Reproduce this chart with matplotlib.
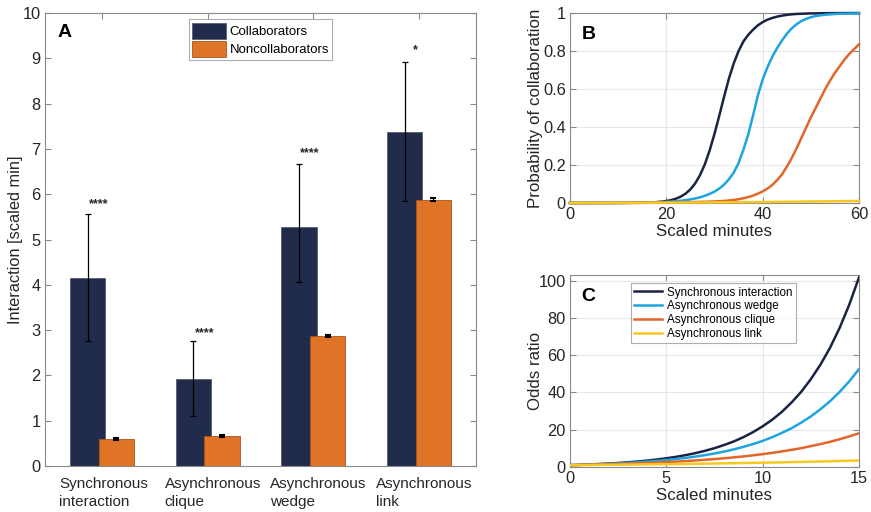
import matplotlib
matplotlib.use("Agg")
import matplotlib.pyplot as plt
import matplotlib.transforms as mtrans
import numpy as np

plt.rcParams["font.family"] = ["Liberation Sans", "DejaVu Sans"]

# ---------------------------------------------------------------------------
# data

categories = ["Synchronous\ninteraction", "Asynchronous\nclique",
              "Asynchronous\nwedge", "Asynchronous\nlink"]
collab_mean = [4.15, 1.93, 5.27, 7.37]
collab_lo   = [2.77, 1.10, 4.06, 5.84]
collab_hi   = [5.56, 2.76, 6.66, 8.92]
noncol_mean = [0.60, 0.67, 2.87, 5.88]
noncol_err  = [0.02, 0.02, 0.03, 0.04]
stars       = ["****", "****", "****", "*"]
star_y      = [5.89, 3.05, 7.02, 9.29]

# panel B: probability of collaboration vs scaled minutes
prob_t = [0, 5, 10] + list(range(15, 61))
prob_sync = [0, 0.0001, 0.0002,
             0.0014, 0.0021, 0.0031, 0.0047, 0.007, 0.0104, 0.0154, 0.0228, 0.0336, 0.0492,
             0.0718, 0.1034, 0.1468, 0.204, 0.277, 0.364, 0.46, 0.56, 0.655, 0.735,
             0.80, 0.85, 0.885, 0.912, 0.935, 0.952, 0.965, 0.974, 0.981, 0.986,
             0.99, 0.993, 0.995, 0.996, 0.997, 0.998, 0.998, 0.9985, 0.999, 0.999,
             0.9993, 0.9995, 0.9996, 0.9997, 0.9998, 0.9998]
prob_wedge = [0, 0.0003, 0.0008,
              0.002, 0.0024, 0.003, 0.0038, 0.0048, 0.006, 0.0075, 0.0095, 0.012, 0.015,
              0.019, 0.024, 0.030, 0.038, 0.048, 0.06, 0.076, 0.097, 0.125, 0.16,
              0.21, 0.28, 0.36, 0.46, 0.565, 0.65, 0.715, 0.77, 0.815, 0.855,
              0.89, 0.918, 0.94, 0.957, 0.969, 0.978, 0.984, 0.988, 0.991, 0.993,
              0.995, 0.996, 0.9965, 0.997, 0.9975, 0.998]
prob_clique = [0, 0.0002, 0.0005,
               0.001, 0.0012, 0.0014, 0.0016, 0.0019, 0.0022, 0.0026, 0.003, 0.0035, 0.004,
               0.0046, 0.0053, 0.006, 0.0066, 0.0073, 0.0082, 0.0095, 0.011, 0.013, 0.016,
               0.02, 0.025, 0.031, 0.039, 0.049, 0.061, 0.076, 0.095, 0.12, 0.15,
               0.19, 0.235, 0.285, 0.34, 0.395, 0.45, 0.50, 0.55, 0.60, 0.645,
               0.685, 0.72, 0.755, 0.785, 0.81, 0.835]
prob_link = [0, 0.0005, 0.001,
             0.0015, 0.0016, 0.0017, 0.0018, 0.0019, 0.002, 0.0021, 0.0022, 0.0023, 0.0024,
             0.0025, 0.0027, 0.0028, 0.003, 0.0031, 0.0033, 0.0034, 0.0036, 0.0038, 0.004,
             0.0042, 0.0044, 0.0046, 0.0048, 0.005, 0.0052, 0.0055, 0.0057, 0.006, 0.0062,
             0.0065, 0.0068, 0.007, 0.0073, 0.0076, 0.0079, 0.0082, 0.0085, 0.0088, 0.0091,
             0.0094, 0.0097, 0.01, 0.0103, 0.0106, 0.011]

# panel C: odds ratio vs scaled minutes (every half minute)
odds_t = [i / 2 for i in range(31)]
odds_sync = [1, 1.167, 1.361, 1.587, 1.852, 2.161, 2.521, 2.94, 3.43, 4.00,
             4.67, 5.45, 6.35, 7.41, 8.65, 10.1, 11.8, 13.7, 16.0, 18.7,
             21.8, 25.4, 29.6, 34.6, 40.3, 47.1, 54.9, 64.0, 74.7, 87.2,
             101.7]
odds_wedge = [1, 1.141, 1.302, 1.486, 1.696, 1.935, 2.208, 2.52, 2.876, 3.28,
              3.745, 4.27, 4.88, 5.57, 6.35, 7.25, 8.27, 9.44, 10.8, 12.3,
              14.0, 16.0, 18.3, 20.8, 23.8, 27.1, 31.0, 35.3, 40.3, 46.0,
              52.5]
odds_clique = [1, 1.101, 1.213, 1.336, 1.471, 1.620, 1.784, 1.965, 2.164, 2.383,
               2.624, 2.89, 3.18, 3.51, 3.86, 4.25, 4.68, 5.16, 5.68, 6.26,
               6.89, 7.59, 8.36, 9.20, 10.1, 11.2, 12.3, 13.5, 14.9, 16.4,
               18.1]
odds_link = [1, 1.04, 1.09, 1.13, 1.18, 1.23, 1.29, 1.34, 1.40, 1.46,
             1.52, 1.58, 1.65, 1.72, 1.79, 1.87, 1.95, 2.03, 2.12, 2.21,
             2.31, 2.40, 2.50, 2.61, 2.72, 2.84, 2.96, 3.09, 3.22, 3.36,
             3.50]

line_names = ["Synchronous interaction", "Asynchronous wedge",
              "Asynchronous clique", "Asynchronous link"]

# ---------------------------------------------------------------------------
# style

NAVY   = "#212b4b"
ORANGE = "#e07426"
L_NAVY = "#1b2345"
L_BLUE = "#1ea4e0"
L_ORNG = "#e2662a"
L_YELL = "#f7c81e"
SPINE  = "#8a8a8a"
TXT    = "#262626"


def matlab_axes(ax, grid=False):
    for s in ax.spines.values():
        s.set_color(SPINE)
        s.set_linewidth(0.8)
    ax.tick_params(direction="in", colors=SPINE, labelcolor=TXT,
                   labelsize=11.8, length=4, top=True, right=True, pad=3)
    if grid:
        ax.grid(True, color="#e8e8e8", linewidth=0.8)
        ax.set_axisbelow(True)


fig = plt.figure(figsize=(8.71, 5.12), dpi=100)

# ── panel A ────────────────────────────────────────────────────────────────
axA = fig.add_axes([0.0517, 0.0898, 0.4948, 0.8848])
x = np.arange(1, len(categories) + 1)
off, w = 0.136, 0.335
cm = np.array(collab_mean)
yerr_c = [cm - np.array(collab_lo), np.array(collab_hi) - cm]
axA.bar(x - off, collab_mean, w, color=NAVY, edgecolor="#5a5f70",
        linewidth=0.6, label="Collaborators", zorder=2)
axA.bar(x + off, noncol_mean, w, color=ORANGE, edgecolor="#a9541c",
        linewidth=0.6, label="Noncollaborators", zorder=3)
axA.errorbar(x - off, collab_mean, yerr=yerr_c, fmt="none", ecolor="black",
             elinewidth=0.9, capsize=2.5, capthick=0.9, zorder=4)
axA.errorbar(x + off, noncol_mean, yerr=noncol_err, fmt="none",
             ecolor="black", elinewidth=0.9, capsize=2.5, capthick=1.5,
             zorder=4)
for xi, s, sy in zip(x, stars, star_y):
    axA.text(xi - 0.03, sy - 0.12, s, ha="center", va="center",
             fontsize=9, color=TXT, fontweight="bold")
axA.set_xlim(0.46, 4.54)
axA.set_ylim(0, 10)
axA.set_yticks(range(11))
axA.set_xticks(x)
axA.set_xticklabels(categories, ha="left", multialignment="left",
                    linespacing=1.35)
matlab_axes(axA)
axA.tick_params(axis="x", pad=8, labelsize=11)
# two-line labels start near the left bar edge
for lbl in axA.get_xticklabels():
    lbl.set_transform(lbl.get_transform() +
                      mtrans.ScaledTranslation(-0.43, 0, fig.dpi_scale_trans))
axA.set_ylabel("Interaction [scaled min]", fontsize=11.8, color=TXT)
axA.yaxis.set_label_coords(-0.052, 0.5)
axA.text(0.028, 0.975, "A", transform=axA.transAxes, fontsize=14,
         fontweight="bold", va="top", ha="left")
legA = axA.legend(loc="upper center", bbox_to_anchor=(0.50, 0.986),
                  fontsize=9.5, frameon=True, fancybox=False,
                  handlelength=2.6, handleheight=1.5, handletextpad=0.25,
                  borderpad=0.25, labelspacing=0.15, borderaxespad=0)
legA.get_frame().set_edgecolor("#9a9a9a")
legA.get_frame().set_linewidth(0.8)

# ── panel B ────────────────────────────────────────────────────────────────
axB = fig.add_axes([0.6544, 0.6035, 0.3318, 0.3711])
for ys, c in zip([prob_sync, prob_wedge, prob_clique, prob_link],
                 [L_NAVY, L_BLUE, L_ORNG, L_YELL]):
    axB.plot(prob_t, ys, color=c, linewidth=1.8, clip_on=False, zorder=3)
axB.set_xlim(0, 60)
axB.set_ylim(0, 1)
axB.set_xticks([0, 20, 40, 60])
axB.set_yticks([0, 0.2, 0.4, 0.6, 0.8, 1])
axB.set_yticklabels(["0", "0.2", "0.4", "0.6", "0.8", "1"])
matlab_axes(axB, grid=True)
axB.set_xlabel("Scaled minutes", fontsize=12.2, color=TXT, labelpad=1)
axB.set_ylabel("Probability of collaboration", fontsize=12.2, color=TXT)
axB.yaxis.set_label_coords(-0.095, 0.5)
axB.text(0.04, 0.93, "B", transform=axB.transAxes, fontsize=14,
         fontweight="bold", va="top", ha="left")

# ── panel C ────────────────────────────────────────────────────────────────
axC = fig.add_axes([0.6544, 0.0879, 0.3318, 0.375])
for ys, c, n in zip([odds_sync, odds_wedge, odds_clique, odds_link],
                    [L_NAVY, L_BLUE, L_ORNG, L_YELL], line_names):
    axC.plot(odds_t, ys, color=c, linewidth=1.8, label=n, zorder=3)
axC.set_xlim(0, 15)
axC.set_ylim(0, 103)
axC.set_xticks([0, 5, 10, 15])
axC.set_yticks([0, 20, 40, 60, 80, 100])
matlab_axes(axC, grid=True)
axC.set_xlabel("Scaled minutes", fontsize=12.2, color=TXT, labelpad=1)
axC.set_ylabel("Odds ratio", fontsize=12.2, color=TXT)
axC.yaxis.set_label_coords(-0.095, 0.5)
axC.text(0.04, 0.93, "C", transform=axC.transAxes, fontsize=14,
         fontweight="bold", va="top", ha="left")
legC = axC.legend(loc="upper left", bbox_to_anchor=(0.21, 0.958),
                  fontsize=8.4, frameon=True, fancybox=False,
                  handlelength=2.4, handletextpad=0.4, borderpad=0.3,
                  labelspacing=0.15, borderaxespad=0)
legC.get_frame().set_edgecolor("#9a9a9a")
legC.get_frame().set_linewidth(0.8)

fig.savefig("out.png", dpi=100)
